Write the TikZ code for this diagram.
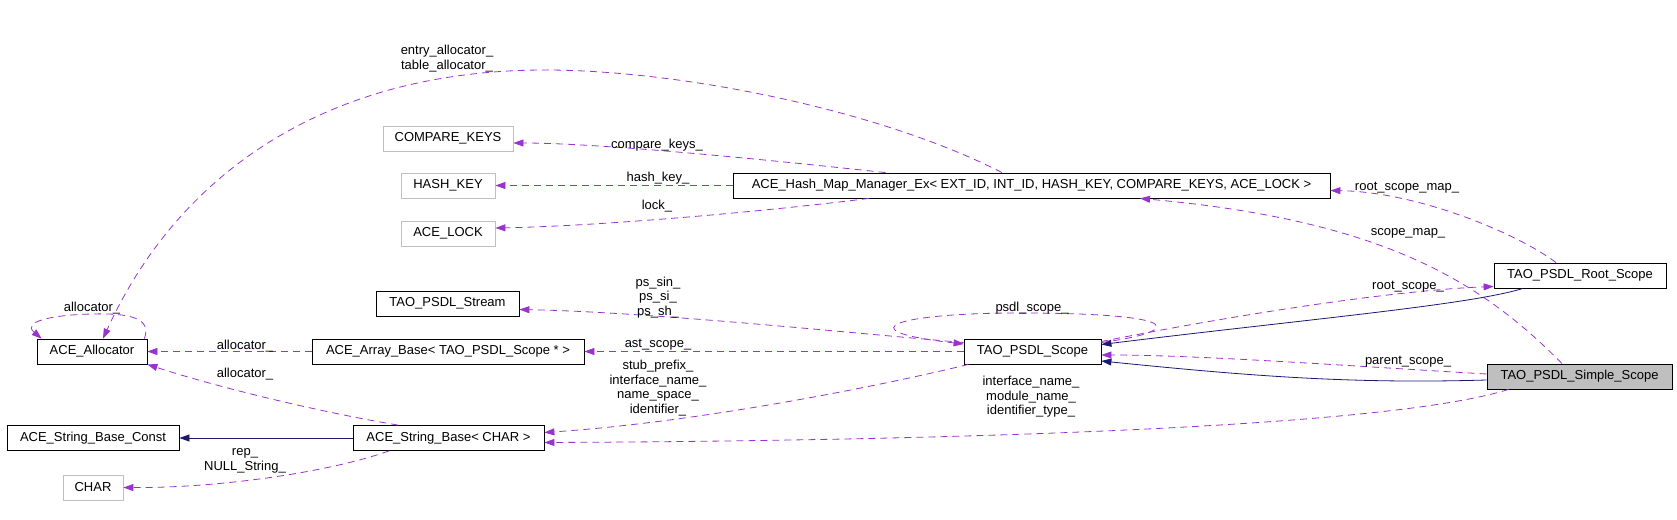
\documentclass[tikz,border=0pt]{standalone}
\usepackage{fontspec}
\setmainfont{Liberation Sans}
\usetikzlibrary{arrows.meta}

\definecolor{edgepurple}{HTML}{9A32CD}
\definecolor{edgenavy}{HTML}{191970}
\definecolor{boxgray}{HTML}{BFBFBF}

\begin{document}
\begin{tikzpicture}[x=1pt,y=-1pt,
		every node/.style={font=\fontsize{13}{14.6}\selectfont},
		cls/.style={draw=black,line width=0.8pt,minimum height=25pt,inner xsep=4pt,inner ysep=0pt},
		ext/.style={cls,draw=boxgray},
		member/.style={color=edgepurple,line width=0.8pt,dash pattern=on 7pt off 5pt,-{Triangle[length=10pt,width=7pt]}},
		inherit/.style={color=edgenavy,line width=0.8pt,-{Triangle[length=10pt,width=7pt]}},
		lbl/.style={align=center,inner sep=0pt}]
		\useasboundingbox (0,0) rectangle (1677,519);
		% classes
		\node[ext,minimum width=130pt] (cmpkeys) at (448,138.5) {COMPARE\_KEYS};
		\node[ext,minimum width=94pt] (hashkey) at (448,185.5) {HASH\_KEY};
		\node[ext,minimum width=94pt] (acelock) at (448,233.5) {ACE\_LOCK};
		\node[cls,minimum width=597pt] (hashmap) at (1031.5,185.5) {ACE\_Hash\_Map\_Manager\_Ex< EXT\_ID, INT\_ID, HASH\_KEY, COMPARE\_KEYS, ACE\_LOCK >};
		\node[cls,minimum width=143pt] (stream) at (447.5,303.5) {TAO\_PSDL\_Stream};
		\node[cls,minimum width=110pt] (alloc) at (92,351.5) {ACE\_Allocator};
		\node[cls,minimum width=272pt] (arraybase) at (448,351.5) {ACE\_Array\_Base< TAO\_PSDL\_Scope * >};
		\node[cls,minimum width=137pt] (scope) at (1032.5,351.5) {TAO\_PSDL\_Scope};
		\node[cls,minimum width=172pt] (rootscope) at (1580,275.5) {TAO\_PSDL\_Root\_Scope};
		\node[cls,fill=boxgray,minimum width=185pt] (simplescope) at (1579.5,376.5) {TAO\_PSDL\_Simple\_Scope};
		\node[cls,minimum width=172pt] (strconst) at (93,438) {ACE\_String\_Base\_Const};
		\node[cls,minimum width=191pt] (strbase) at (448.5,438) {ACE\_String\_Base< CHAR >};
		\node[ext,minimum width=60pt] (charnode) at (93,487.5) {CHAR};
		% members of ACE_Hash_Map_Manager_Ex
		\draw[member] ([xshift=-29.5pt]hashmap.north) .. controls (880,110) and (680,70) .. (545,70) .. controls (330,70) and (180,170) .. ([xshift=11pt]alloc.north);
		\node[lbl] (lblentry) at (447,58.5) {entry\_allocator\_\\table\_allocator\_};
		\draw[member] ([xshift=-146pt]hashmap.north) .. controls (770,160) and (600,143) .. ([yshift=-4.5pt]cmpkeys.east);
		\node[lbl] (lblcmp) at (657,145) {compare\_keys\_};
		\draw[member] (hashmap.west) -- (hashkey.east);
		\node[lbl] (lblhash) at (658,178) {hash\_key\_};
		\draw[member] ([xshift=-162.5pt]hashmap.south) .. controls (760,212) and (600,226) .. ([yshift=5.5pt]acelock.east);
		\node[lbl] (lbllock) at (657,206) {lock\_};
		% scopes
		\draw[member] ([xshift=-24pt]rootscope.north) .. controls (1520,235) and (1420,192) .. ([yshift=-5pt]hashmap.east);
		\node[lbl] (lblrootmap) at (1407,188) {root\_scope\_map\_};
		\draw[member] ([xshift=-17.5pt]simplescope.north) .. controls (1480,280) and (1380,220) .. ([xshift=108.5pt]hashmap.south);
		\node[lbl] (lblscopemap) at (1408,233) {scope\_map\_};
		\draw[member] ([yshift=10pt]scope.east) .. controls (1250,312) and (1400,290) .. ([yshift=-11pt]rootscope.west);
		\node[lbl] (lblroot) at (1408,287) {root\_scope\_};
		\draw[inherit] ([xshift=-57pt]rootscope.south) .. controls (1470,305) and (1300,320) .. ([yshift=7pt]scope.east);
		\draw[member] ([yshift=2.5pt]simplescope.west) .. controls (1350,366) and (1200,355) .. ([yshift=-3.5pt]scope.east);
		\node[lbl] (lblparent) at (1408,362) {parent\_scope\_};
		\draw[inherit] ([yshift=-3.5pt]simplescope.west) .. controls (1350,384) and (1250,376) .. ([yshift=-9.5pt]scope.east);
		\draw[member] ([yshift=9pt]scope.east) .. controls (1180,332) and (1190,314) .. (1030,313) .. controls (900,312) and (840,330) .. ([yshift=7.5pt]scope.west);
		\node[lbl] (lblpsdl) at (1032,308) {psdl\_scope\_};
		\draw[member] ([yshift=9pt]scope.west) .. controls (850,333) and (650,312) .. ([yshift=-6pt]stream.east);
		\node[lbl] (lblps) at (658,297.5) {ps\_sin\_\\ps\_si\_\\ps\_sh\_};
		\draw[member] (scope.west) -- (arraybase.east);
		\node[lbl] (lblast) at (658,345) {ast\_scope\_};
		\draw[member] ([xshift=-64pt]scope.south) .. controls (880,386) and (700,422) .. ([yshift=5.5pt]strbase.east);
		\node[lbl] (lblstub) at (658,388) {stub\_prefix\_\\interface\_name\_\\name\_space\_\\identifier\_};
		\draw[member] ([xshift=-71pt]simplescope.south) .. controls (1380,430) and (900,441) .. ([yshift=-4.5pt]strbase.east);
		\node[lbl] (lbliface) at (1031,397) {interface\_name\_\\module\_name\_\\identifier\_type\_};
		% ACE side
		\draw[member] (arraybase.west) -- (alloc.east);
		\node[lbl] (lblalloca) at (245,346) {allocator\_};
		\draw[member] ([xshift=-50.5pt]strbase.north) .. controls (320,412) and (220,388) .. (alloc.south east);
		\node[lbl] (lblallocs) at (245,374) {allocator\_};
		\draw[inherit] (strbase.west) -- (strconst.east);
		\draw[member] ([xshift=-59.5pt]strbase.south) .. controls (330,472) and (220,488) .. (charnode.east);
		\node[lbl] (lblrep) at (245,460.7) {rep\_\\NULL\_String\_};
		\draw[member] ([xshift=-3pt]alloc.north east) .. controls (152,318) and (130,313) .. (92,314) .. controls (50,315) and (22,322) .. ([xshift=5pt]alloc.north west);
		\node[lbl] (lblself) at (92,308) {allocator\_};
	\end{tikzpicture}
\end{document}
